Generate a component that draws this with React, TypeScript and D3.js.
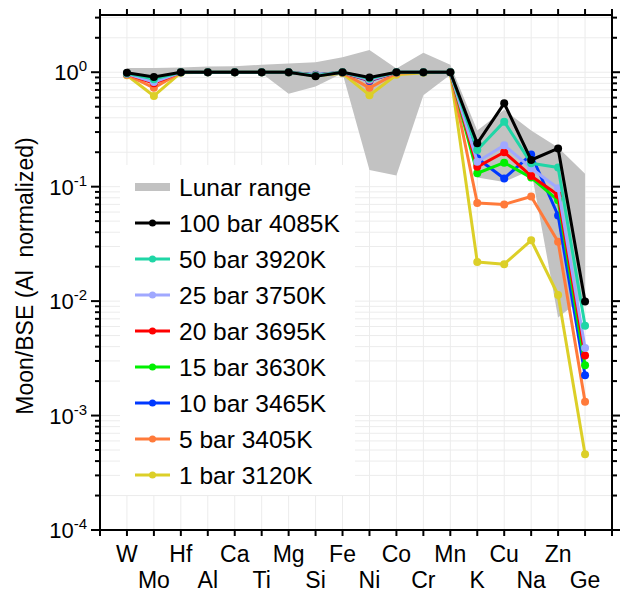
import React from "react";
import * as d3 from "d3";

const elementsUpper = ["W", "Hf", "Ca", "Mg", "Fe", "Co", "Mn", "Cu", "Zn"];
const elements = ["W","Mo","Hf","Al","Ca","Ti","Mg","Si","Fe","Ni","Co","Cr","Mn","K","Cu","Na","Zn","Ge"];

const lunarUpper = [1.09,1.09,1.10,1.12,1.13,1.16,1.19,1.22,1.35,1.56,1.08,1.48,1.16,0.31,0.47,0.31,0.22,0.13];
const lunarLower = [0.92,0.90,0.98,0.98,0.98,0.98,0.65,0.75,0.98,0.14,0.125,0.63,0.95,0.12,0.11,0.14,0.0072,0.011];

const seriesNames = ["100 bar 4085K","50 bar 3920K","25 bar 3750K","20 bar 3695K","15 bar 3630K","10 bar 3465K","5 bar 3405K","1 bar 3120K"];
const seriesColors = ["#000000","#1fd6a6","#a0a8ff","#ff0000","#00f000","#0038ff","#ff7a3a","#dccf28"];

const s100 = [0.99,0.91,1,1,1,1,1,0.92,1.0,0.90,1.0,1,1,0.239,0.535,0.171,0.216,0.0099];
const s50 = [0.98,0.87,1,1,1,1,1,0.93,1,0.88,1,1,1,0.209,0.37,0.16,0.147,0.0061];
const s25 = [0.97,0.82,1,1,1,1,1,0.94,1,0.86,1,1,1,0.165,0.23,0.145,0.097,0.0039];
const s20 = [0.97,0.80,1,1,1,1,1,0.94,1,0.85,1,1,1,0.149,0.20,0.124,0.0845,0.00335];
const s15 = [0.97,0.84,1,1,1,1,1,0.94,1,0.86,1,1,1,0.131,0.162,0.12,0.076,0.00275];
const s10 = [0.97,0.83,1,1,1,1,1,0.95,1,0.84,1,1,1,0.177,0.118,0.191,0.056,0.00225];
const s5 = [0.95,0.73,1,1,1,1,1,0.94,0.99,0.73,0.98,1,1,0.072,0.07,0.082,0.033,0.00132];
const s1 = [0.94,0.62,0.99,1,1,1,1,0.93,0.98,0.63,0.95,0.99,1,0.022,0.021,0.034,0.0113,0.00046];
const seriesValues = [s100, s50, s25, s20, s15, s10, s5, s1];

const yTickExps = [0, -1, -2, -3, -4];

const W = 620, H = 592;
const left = 100, right = 612, top = 15, bottom = 530;

export default function App() {
  const x = d3.scaleLinear().domain([0, elements.length + 1]).range([left, right]);
  const y = d3.scaleLog().domain([1e-4, Math.pow(10, 0.5)]).range([bottom, top]);

  const xIdx = elements.map((_, i) => i + 1);
  const allXTicks = d3.range(0, elements.length + 2);

  const minorTicks: number[] = [];
  for (let e = -4; e <= 0; e++) {
    for (let m = 1; m <= 9; m++) {
      const v = m * Math.pow(10, e);
      if (v <= Math.pow(10, 0.5) + 1e-9 && v >= 1e-4) minorTicks.push(v);
    }
  }

  const area = d3.area<number>()
    .x((_, i) => x(xIdx[i]))
    .y0((_, i) => y(lunarLower[i]))
    .y1((d) => y(d));

  const line = d3.line<number>()
    .x((_, i) => x(xIdx[i]))
    .y((d) => y(d));

  const font = "'Liberation Sans', Arial, Helvetica, sans-serif";
  const order = d3.range(seriesValues.length).reverse();

  const legX = 135, legY0 = 187, legDy = 36;

  return (
    <svg width={W} height={H} style={{ position: "absolute", left: 0, top: 0, background: "#fff" }} fontFamily={font}>
      <g stroke="#ececec" strokeWidth={1}>
        {allXTicks.map((t) => (
          <line key={"gx" + t} x1={x(t)} x2={x(t)} y1={top} y2={bottom} />
        ))}
        {minorTicks.map((v, i) => (
          <line key={"gy" + i} x1={left} x2={right} y1={y(v)} y2={y(v)} />
        ))}
      </g>
      <path d={area(lunarUpper) || ""} fill="#c2c2c2" stroke="none" />
      <rect x={120} y={165} width={235} height={330} fill="#fff" />
      {order.map((k) => (
        <g key={"s" + k}>
          <path d={line(seriesValues[k]) || ""} fill="none" stroke={seriesColors[k]} strokeWidth={3} strokeLinejoin="round" />
          {seriesValues[k].map((v, i) => (
            <circle key={i} cx={x(xIdx[i])} cy={y(v)} r={4} fill={seriesColors[k]} />
          ))}
        </g>
      ))}
      <rect x={left} y={top} width={right - left} height={bottom - top} fill="none" stroke="#000" strokeWidth={2} />
      <g stroke="#000" strokeWidth={2}>
        {allXTicks.map((t) => (
          <g key={"xt" + t}>
            <line x1={x(t)} x2={x(t)} y1={bottom} y2={bottom + 6} />
            <line x1={x(t)} x2={x(t)} y1={top} y2={top - 6} />
          </g>
        ))}
        {minorTicks.map((v, i) => {
          const major = Math.abs(Math.log10(v) - Math.round(Math.log10(v))) < 1e-9;
          const len = major ? 9 : 5;
          return (
            <g key={"yt" + i}>
              <line x1={left} x2={left - len} y1={y(v)} y2={y(v)} />
              <line x1={right} x2={right + len} y1={y(v)} y2={y(v)} />
            </g>
          );
        })}
      </g>
      <g fontSize={23} textAnchor="middle" fill="#000">
        {elements.map((el, i) => (
          <text key={el} x={x(xIdx[i])} y={elementsUpper.includes(el) ? 562 : 588}>{el}</text>
        ))}
      </g>
      <g fill="#000">
        {yTickExps.map((e) => (
          <text key={"yl" + e} x={87} y={y(Math.pow(10, e)) + 8} textAnchor="end" fontSize={22}>
            10<tspan dy={-9} fontSize={15}>{String(e)}</tspan>
          </text>
        ))}
      </g>
      <text transform={`translate(33,${276}) rotate(-90)`} textAnchor="middle" fontSize={23} fill="#000" xmlSpace="preserve">
        Moon/BSE (Al  normalized)
      </text>
      <rect x={legX} y={legY0 - 4} width={35} height={8} fill="#c2c2c2" />
      <text x={179} y={legY0 + 9} fontSize={24.5} fill="#000">Lunar range</text>
      {seriesNames.map((n, k) => {
        const yy = legY0 + (k + 1) * legDy;
        return (
          <g key={"lg" + k}>
            <line x1={legX} x2={legX + 35} y1={yy} y2={yy} stroke={seriesColors[k]} strokeWidth={3} />
            <circle cx={legX + 17.5} cy={yy} r={3.5} fill={seriesColors[k]} />
            <text x={179} y={yy + 9} fontSize={24.5} fill="#000">{n}</text>
          </g>
        );
      })}
    </svg>
  );
}
